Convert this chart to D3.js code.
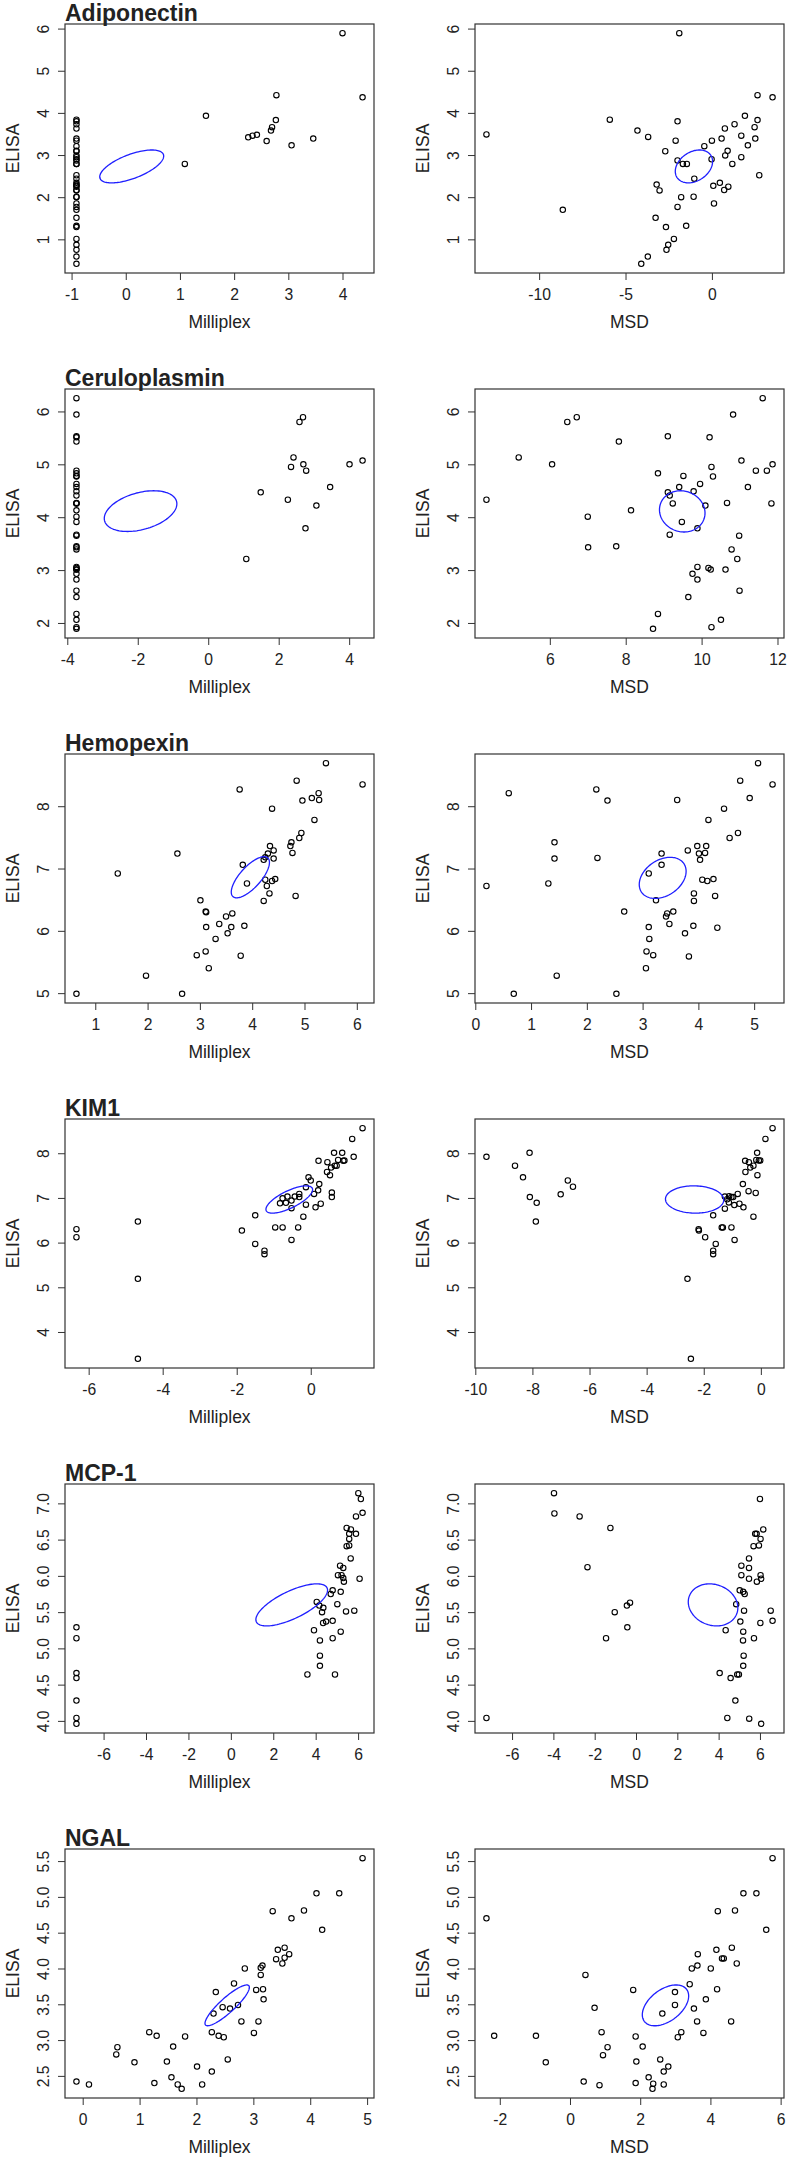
<!DOCTYPE html>
<html>
<head>
<meta charset="utf-8">
<style>
  body { margin: 0; background: #fff; }
  svg text { font-family: "Liberation Sans", Arial, sans-serif; fill: #222; }
</style>
</head>
<body>
<div id="chart"></div>
<script src="https://cdn.jsdelivr.net/npm/d3@7"></script>
<script>
// one row per analyte, left = Milliplex vs ELISA, right = MSD vs ELISA
const analytes = ["Adiponectin", "Ceruloplasmin", "Hemopexin", "KIM1", "MCP-1", "NGAL"];
const methods = ["Milliplex", "MSD"];
const yTitle = "ELISA";

// points are [x, ELISA]
const adiponectinMilliplex = [
  [4.00,5.89],[4.37,4.37],[2.78,4.42],[1.48,3.93],[2.77,3.83],[2.70,3.66],[2.68,3.58],[2.42,3.48],
  [2.34,3.46],[2.26,3.42],[2.60,3.33],[3.46,3.39],[3.06,3.23],[1.09,2.79],
  [-0.91,3.84],[-0.91,3.80],[-0.91,3.73],[-0.91,3.63],[-0.91,3.39],[-0.91,3.34],[-0.91,3.21],[-0.91,3.10],
  [-0.91,3.09],[-0.91,2.99],[-0.91,2.95],[-0.91,2.90],[-0.91,2.87],[-0.91,2.79],[-0.91,2.79],[-0.91,2.52],
  [-0.91,2.44],[-0.91,2.34],[-0.91,2.30],[-0.91,2.27],[-0.91,2.25],[-0.91,2.17],[-0.91,2.16],[-0.91,2.01],
  [-0.91,2.00],[-0.91,1.85],[-0.91,1.77],[-0.91,1.70],[-0.91,1.51],[-0.91,1.32],[-0.91,1.29],[-0.91,1.01],
  [-0.91,0.87],[-0.91,0.75],[-0.91,0.59],[-0.91,0.42]
];
const adiponectinMsd = [
  [-13.05,3.49],[-8.63,1.70],[-5.91,3.84],[-4.31,3.58],[-3.69,3.43],[-1.89,5.89],[-1.99,3.80],[-2.10,3.34],
  [-2.70,3.09],[-1.99,2.87],[-1.68,2.79],[-1.45,2.79],[-1.02,2.44],[-0.44,3.21],[0.00,3.34],[-0.02,2.90],
  [0.56,3.39],[0.75,3.63],[1.31,3.73],[1.91,3.93],[2.64,4.42],[3.51,4.37],[2.64,3.83],[2.47,3.66],
  [1.70,3.46],[2.51,3.39],[2.08,3.23],[0.91,3.10],[0.77,2.99],[1.18,2.79],[1.70,2.95],[2.74,2.52],
  [0.46,2.34],[0.08,2.27],[0.95,2.25],[0.71,2.17],[0.12,1.85],[-3.20,2.30],[-3.03,2.16],[-1.78,2.00],
  [-1.06,2.01],[-1.99,1.77],[-3.26,1.51],[-2.66,1.29],[-1.49,1.32],[-2.20,1.01],[-2.53,0.87],[-2.63,0.75],
  [-3.71,0.59],[-4.09,0.42]
];
const ceruloplasminMilliplex = [
  [1.08,3.21],[1.49,4.47],[2.26,4.33],[2.35,4.95],[2.42,5.13],[2.59,5.80],[2.69,5.89],[2.70,5.00],
  [2.78,4.88],[3.07,4.22],[2.76,3.79],[3.46,4.57],[4.01,5.00],[4.38,5.07],
  [-3.74,4.01],[-3.74,3.43],[-3.74,3.45],[-3.74,5.43],[-3.74,4.13],[-3.74,4.83],[-3.74,5.53],[-3.74,4.41],
  [-3.74,4.26],[-3.74,4.78],[-3.74,3.91],[-3.74,3.67],[-3.74,4.49],[-3.74,4.63],[-3.74,5.51],[-3.74,4.77],
  [-3.74,4.27],[-3.74,5.94],[-3.74,4.57],[-3.74,6.25],[-3.74,4.88],[-3.74,4.26],[-3.74,3.65],[-3.74,3.39],
  [-3.74,2.61],[-3.74,3.01],[-3.74,3.04],[-3.74,3.01],[-3.74,3.06],[-3.74,2.93],[-3.74,2.82],[-3.74,2.49],
  [-3.74,2.17],[-3.74,1.89],[-3.74,1.92],[-3.74,2.06]
];
const ceruloplasminMsd = [
  [4.33,4.33],[5.18,5.13],[6.06,5.00],[6.46,5.80],[6.71,5.89],[7.00,4.01],[7.01,3.43],[7.75,3.45],
  [7.82,5.43],[8.14,4.13],[8.85,4.83],[9.11,5.53],[9.11,4.47],[9.16,4.41],[9.24,4.26],[9.41,4.57],
  [9.52,4.78],[9.48,3.91],[9.16,3.67],[9.79,4.49],[9.96,4.63],[10.10,4.22],[9.89,3.79],[10.21,5.51],
  [10.26,4.95],[10.30,4.77],[10.67,4.27],[10.83,5.94],[11.05,5.07],[11.43,4.88],[11.22,4.57],[11.61,6.25],
  [11.72,4.88],[11.87,5.00],[11.84,4.26],[10.99,3.65],[10.79,3.39],[10.94,3.21],[11.00,2.61],[10.63,3.01],
  [10.18,3.04],[10.24,3.01],[9.89,3.06],[9.76,2.93],[9.89,2.82],[9.65,2.49],[8.85,2.17],[8.72,1.89],
  [10.26,1.92],[10.51,2.06]
];
const hemopexinMilliplex = [
  [4.28,6.72],[5.27,8.21],[0.64,4.99],[3.90,6.76],[4.75,7.42],[4.41,7.16],[1.97,5.28],[3.76,8.27],
  [4.96,8.09],[4.25,7.18],[2.66,4.99],[3.11,6.31],[1.43,6.92],[2.57,7.24],[3.82,7.06],[3.01,6.49],
  [3.62,6.28],[3.50,6.23],[3.12,6.30],[3.37,6.11],[3.12,6.06],[3.30,5.87],[3.11,5.67],[2.94,5.61],
  [3.17,5.40],[5.28,8.10],[4.41,7.29],[3.53,5.96],[3.78,5.60],[3.85,6.08],[4.33,6.60],[4.22,6.48],
  [4.34,7.36],[4.30,7.24],[4.22,7.14],[4.25,6.82],[4.38,6.80],[4.73,7.36],[4.77,7.25],[5.19,7.78],
  [4.44,6.83],[4.83,6.56],[3.60,6.06],[4.38,7.96],[4.90,7.49],[4.94,7.57],[4.85,8.41],[5.14,8.13],
  [5.41,8.69],[6.11,8.35]
];
const hemopexinMsd = [
  [0.20,6.72],[0.60,8.21],[0.69,4.99],[1.31,6.76],[1.42,7.42],[1.42,7.16],[1.46,5.28],[2.17,8.27],
  [2.37,8.09],[2.19,7.17],[2.53,4.99],[2.67,6.31],[3.11,6.92],[3.34,7.24],[3.34,7.06],[3.24,6.49],
  [3.44,6.28],[3.42,6.23],[3.55,6.31],[3.48,6.11],[3.11,6.06],[3.12,5.87],[3.07,5.67],[3.19,5.61],
  [3.06,5.40],[3.62,8.10],[3.81,7.29],[3.76,5.96],[3.83,5.59],[3.91,6.08],[3.92,6.60],[3.92,6.48],
  [3.98,7.36],[4.01,7.24],[4.03,7.14],[4.07,6.82],[4.16,6.80],[4.14,7.36],[4.12,7.25],[4.18,7.78],
  [4.27,6.83],[4.30,6.56],[4.34,6.05],[4.46,7.96],[4.56,7.49],[4.71,7.57],[4.75,8.41],[4.92,8.13],
  [5.07,8.69],[5.33,8.35]
];
const kim1Milliplex = [
  [-6.33,6.30],[-6.33,6.12],[-4.67,6.47],[-4.67,5.19],[-4.67,3.40],[-1.86,6.27],[-1.50,6.61],[-1.50,5.97],
  [-1.25,5.82],[-1.25,5.74],[-0.96,6.34],[-0.76,6.34],[-0.34,6.34],[-0.52,6.06],[-0.20,6.58],[-0.76,6.99],
  [-0.83,6.88],[-0.67,6.89],[-0.63,7.03],[-0.52,6.94],[-0.52,6.77],[-0.43,7.03],[-0.31,7.09],[-0.31,7.02],
  [-0.13,7.24],[-0.13,6.85],[-0.06,7.46],[0.00,7.39],[0.09,7.09],[0.13,6.79],[0.20,7.17],[0.23,7.31],
  [0.27,6.87],[0.21,7.83],[0.45,7.80],[0.44,7.58],[0.52,7.51],[0.55,7.68],[0.57,7.12],[0.57,7.02],
  [0.63,8.01],[0.65,7.72],[0.70,7.72],[0.74,7.85],[0.85,8.01],[0.88,7.83],[0.91,7.84],[1.12,8.32],
  [1.16,7.92],[1.40,8.56]
];
const kim1Msd = [
  [-9.61,7.92],[-8.61,7.72],[-8.33,7.46],[-8.10,8.01],[-8.09,7.02],[-7.85,6.89],[-7.88,6.47],[-7.01,7.08],
  [-6.76,7.39],[-6.58,7.25],[-2.57,5.19],[-2.45,3.40],[-2.18,6.30],[-2.17,6.27],[-1.95,6.12],[-1.67,6.61],
  [-1.58,5.97],[-1.67,5.82],[-1.67,5.74],[-1.37,6.34],[-1.33,6.34],[-1.03,6.34],[-0.92,6.06],[-1.26,6.76],
  [-1.26,7.03],[-1.12,6.90],[-1.11,7.04],[-1.03,7.02],[-0.97,7.02],[-0.93,6.84],[-0.81,7.09],[-0.75,6.87],
  [-0.61,6.79],[-0.63,7.31],[-0.43,7.15],[-0.26,6.58],[-0.18,7.11],[-0.12,7.51],[-0.54,7.58],[-0.55,7.83],
  [-0.42,7.80],[-0.37,7.68],[-0.26,7.72],[-0.16,7.85],[-0.13,8.01],[-0.07,7.84],[-0.02,7.84],[0.16,8.32],
  [0.41,8.56],[-1.18,6.97]
];
const mcp1Milliplex = [
  [-7.28,5.29],[-7.28,5.14],[-7.28,4.66],[-7.28,4.59],[-7.28,4.28],[-7.28,4.04],[-7.28,3.96],
  [3.61,4.64],[3.92,5.25],[4.05,5.64],[4.17,5.59],[4.30,5.50],[4.36,5.56],[4.20,5.11],[4.20,4.90],
  [4.20,4.76],[4.35,5.35],[4.49,5.37],[4.71,5.75],[4.80,5.80],[4.80,5.38],[4.80,5.14],[4.91,4.64],
  [5.02,5.61],[5.05,6.01],[5.15,6.14],[5.18,5.78],[5.18,5.23],[5.22,6.01],[5.30,6.11],[5.30,5.97],
  [5.33,5.92],[5.43,5.51],[5.46,6.41],[5.58,6.42],[5.46,6.66],[5.58,6.58],[5.66,6.64],[5.58,6.51],
  [5.65,6.24],[5.82,5.52],[5.90,6.82],[5.90,6.58],[6.01,7.14],[6.13,7.06],[6.21,6.87],[6.07,5.96]
];
const mcp1Msd = [
  [-7.24,4.04],[-3.97,7.14],[-3.95,6.86],[-2.73,6.82],[-2.35,6.12],[-1.24,6.66],[-1.45,5.14],[-1.03,5.50],
  [-0.44,5.59],[-0.29,5.63],[-0.42,5.29],[4.05,4.66],[4.34,5.25],[4.42,4.04],[4.58,4.59],[4.81,4.28],
  [4.85,5.61],[4.90,4.64],[4.98,4.64],[5.02,5.80],[5.05,5.37],[5.10,6.14],[5.10,6.01],[5.19,5.78],
  [5.26,5.75],[5.23,5.52],[5.19,5.23],[5.18,5.11],[5.21,4.90],[5.19,4.76],[5.47,6.11],[5.47,5.96],
  [5.47,6.24],[5.48,4.03],[5.69,6.41],[5.71,5.14],[5.77,6.58],[5.84,6.58],[5.85,5.92],[5.95,6.42],
  [6.03,6.51],[6.03,6.01],[6.06,5.96],[6.00,7.06],[6.16,6.64],[6.02,5.35],[6.06,3.96],[6.52,5.52],
  [6.61,5.38]
];
const ngalMilliplex = [
  [-0.11,2.42],[0.11,2.38],[0.59,2.80],[0.61,2.90],[0.91,2.69],[1.17,3.11],[1.30,3.06],[1.26,2.40],
  [1.48,2.70],[1.56,2.48],[1.59,2.91],[1.67,2.38],[1.74,2.32],[1.80,3.05],[2.01,2.63],[2.10,2.38],
  [2.27,2.56],[2.27,3.11],[2.34,3.67],[2.30,3.37],[2.39,3.06],[2.46,3.46],[2.48,3.04],[2.55,2.73],
  [2.59,3.44],[2.66,3.79],[2.73,3.49],[2.79,3.26],[2.85,4.00],[3.01,3.10],[3.05,3.70],[3.09,3.26],
  [3.13,3.91],[3.13,4.01],[3.16,4.04],[3.17,3.71],[3.18,3.57],[3.34,4.80],[3.40,4.13],[3.43,4.26],
  [3.51,4.07],[3.55,4.29],[3.55,4.15],[3.63,4.20],[3.67,4.70],[3.89,4.81],[4.11,5.05],[4.21,4.54],
  [4.51,5.05],[4.92,5.54]
];
const ngalMsd = [
  [-2.38,4.70],[-2.16,3.06],[-0.97,3.06],[-0.69,2.69],[0.39,2.42],[0.44,3.91],[0.70,3.45],[0.84,2.37],
  [0.90,3.11],[0.94,2.79],[1.07,2.90],[1.80,3.70],[1.87,3.05],[1.89,2.70],[1.87,2.40],[2.07,2.91],
  [2.24,2.48],[2.37,2.39],[2.35,2.32],[2.57,2.73],[2.67,2.56],[2.67,2.38],[2.80,2.63],[2.63,3.37],
  [2.99,3.49],[2.99,3.67],[3.07,3.04],[3.17,3.11],[3.41,3.78],[3.47,4.00],[3.53,3.44],[3.62,3.26],
  [3.63,4.04],[3.64,4.20],[3.80,3.10],[3.87,3.57],[4.01,4.00],[4.17,4.26],[4.19,3.71],[4.21,4.80],
  [4.33,4.14],[4.38,4.14],[4.59,3.26],[4.61,4.29],[4.70,4.81],[4.75,4.07],[4.94,5.05],[5.31,5.05],
  [5.59,4.54],[5.77,5.54]
];

// blue ellipses, one per panel: [centre x, centre y, x half-extent, y half-extent, correlation]
const adiponectinEllipses = [[0.11, 2.73, 0.59, 0.39, 0.63], [-1.04, 2.73, 1.08, 0.39, 0.30]];
const ceruloplasminEllipses = [[-1.92, 4.115, 1.03, 0.385, 0.36], [9.49, 4.11, 0.60, 0.39, -0.08]];
const hemopexinEllipses = [[3.965, 6.86, 0.365, 0.33, 0.72], [3.36, 6.85, 0.42, 0.33, 0.32]];
const kim1Ellipses = [[-0.58, 6.965, 0.63, 0.305, 0.72], [-2.32, 6.965, 1.02, 0.305, -0.03]];
const mcp1Ellipses = [[2.87, 5.60, 1.69, 0.29, 0.70], [3.73, 5.60, 1.20, 0.29, -0.14]];
const ngalEllipses = [[2.54, 3.485, 0.39, 0.285, 0.88], [2.72, 3.485, 0.66, 0.285, 0.46]];

const pointSets = [
  [adiponectinMilliplex, adiponectinMsd],
  [ceruloplasminMilliplex, ceruloplasminMsd],
  [hemopexinMilliplex, hemopexinMsd],
  [kim1Milliplex, kim1Msd],
  [mcp1Milliplex, mcp1Msd],
  [ngalMilliplex, ngalMsd]
];
const ellipseSets = [adiponectinEllipses, ceruloplasminEllipses, hemopexinEllipses,
                     kim1Ellipses, mcp1Ellipses, ngalEllipses];

// layout
const firstTop = 24, rowStep = 365, boxW = 309, boxH = 249;
const boxLefts = [65, 475];

const svg = d3.select("#chart").append("svg")
  .attr("width", 791)
  .attr("height", 2158);

const locale = d3.formatLocale({decimal: ".", thousands: ",", grouping: [3], currency: ["", ""], minus: "-"});

// R style range: data extent plus 4% each side
function padded(vals) {
  const [lo, hi] = d3.extent(vals);
  const p = (hi - lo) * 0.04;
  return [lo - p, hi + p];
}

function tickFormat(scale) {
  const t = scale.ticks(5);
  return locale.format("." + d3.precisionFixed(t[1] - t[0]) + "f");
}

analytes.forEach((name, row) => {
  const top = firstTop + row * rowStep;

  methods.forEach((method, col) => {
    const pts = pointSets[row][col];
    const left = boxLefts[col];
    const x = d3.scaleLinear().domain(padded(pts.map(d => d[0]))).range([left, left + boxW]);
    const y = d3.scaleLinear().domain(padded(pts.map(d => d[1]))).range([top + boxH, top]);
    const g = svg.append("g");

    // x axis
    const gx = g.append("g")
      .attr("transform", `translate(0,${top + boxH})`)
      .call(d3.axisBottom(x).ticks(5).tickSize(7).tickSizeOuter(0).tickPadding(9).tickFormat(tickFormat(x)));
    gx.select(".domain").remove();
    gx.selectAll("line").attr("stroke", "#333");
    gx.selectAll("text").attr("font-size", 15.7).attr("fill", "#222");
    gx.attr("font-family", null);

    // y axis, labels turned like R's las = 0
    const gy = g.append("g")
      .attr("transform", `translate(${left},0)`)
      .call(d3.axisLeft(y).ticks(5).tickSize(7).tickSizeOuter(0).tickFormat(tickFormat(y)));
    gy.select(".domain").remove();
    gy.selectAll("line").attr("stroke", "#333");
    gy.attr("font-family", null);
    gy.selectAll("text")
      .attr("x", 0)
      .attr("dy", "0.35em")
      .attr("text-anchor", "middle")
      .attr("transform", "translate(-22,0) rotate(-90)")
      .attr("font-size", 15.7)
      .attr("fill", "#222");

    // box
    g.append("rect")
      .attr("x", left).attr("y", top)
      .attr("width", boxW).attr("height", boxH)
      .attr("fill", "none")
      .attr("stroke", "#333")
      .attr("stroke-width", 1.2);

    // points
    g.selectAll("circle.pt")
      .data(pts)
      .join("circle")
      .attr("class", "pt")
      .attr("cx", d => x(d[0]))
      .attr("cy", d => y(d[1]))
      .attr("r", 2.7)
      .attr("fill", "none")
      .attr("stroke", "#000")
      .attr("stroke-width", 1.1);

    // ellipse
    const [cx, cy, sx, sy, r] = ellipseSets[row][col];
    const q = Math.sqrt(1 - r * r);
    const ring = d3.range(0, 360, 3).map(a => {
      const t = a * Math.PI / 180;
      return [cx + sx * Math.cos(t), cy + sy * (r * Math.cos(t) + q * Math.sin(t))];
    });
    g.append("path")
      .attr("d", d3.line().x(d => x(d[0])).y(d => y(d[1])).curve(d3.curveLinearClosed)(ring))
      .attr("fill", "none")
      .attr("stroke", "#1f1fff")
      .attr("stroke-width", 1.3);

    // axis titles
    g.append("text")
      .attr("x", left + boxW / 2)
      .attr("y", top + boxH + 55)
      .attr("text-anchor", "middle")
      .attr("font-size", 17.5)
      .text(method);
    g.append("text")
      .attr("transform", `translate(${left - 52},${top + boxH / 2}) rotate(-90)`)
      .attr("dy", "0.35em")
      .attr("text-anchor", "middle")
      .attr("font-size", 17.5)
      .text(yTitle);

    if (col === 0) {
      g.append("text")
        .attr("x", left)
        .attr("y", top - 3)
        .attr("font-size", 23)
        .attr("font-weight", "bold")
        .attr("fill", "#000")
        .text(name);
    }
  });
});
</script>
</body>
</html>
